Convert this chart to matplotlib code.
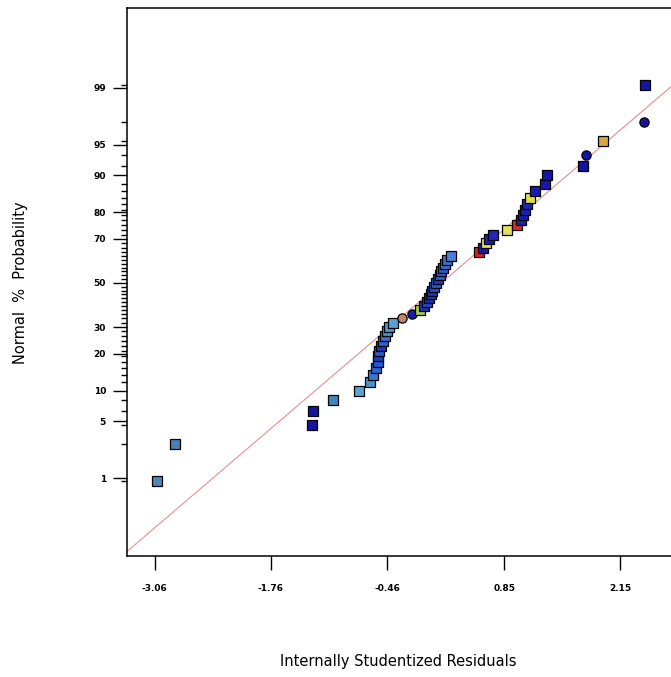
import matplotlib.pyplot as plt
from statistics import NormalDist

# internally studentized residuals, sorted ascending
residuals = [-3.04, -2.84, -1.30, -1.29, -1.07, -0.78, -0.65, -0.62, -0.585, -0.565,
             -0.56, -0.55, -0.53, -0.51, -0.485, -0.46, -0.44, -0.395, -0.295, -0.18,
             -0.09, -0.05, -0.015, 0.01, 0.03, 0.04, 0.065, 0.085, 0.11, 0.13,
             0.145, 0.165, 0.19, 0.21, 0.255, 0.57, 0.61, 0.645, 0.68, 0.725,
             0.88, 0.995, 1.04, 1.06, 1.085, 1.105, 1.14, 1.195, 1.305, 1.33,
             1.735, 1.765, 1.955, 2.42, 2.43]

# fill colour of each run (coloured by response)
colors = ['#4d86b8', '#4a80b0', '#1414a0', '#1414a0', '#3f86bf', '#5ba3d3', '#4a92cc',
          '#3a78d0', '#2f62d4', '#2a58d0', '#1d3cc0', '#2a5ad0', '#1c36bb', '#2d62d2',
          '#3570d8', '#4a8fd0', '#4f98d2', '#5aa2d6', '#c98468', '#1a1ab4', '#a8d040',
          '#1e30b8', '#2448c4', '#1a2ab8', '#2040c0', '#1c34bc', '#2550c8', '#2a5ad0',
          '#1e3cc0', '#2e60d0', '#3366d2', '#2a58cc', '#3a72d4', '#3a70d6', '#4a80d8',
          '#e02020', '#1a1ab0', '#e6e04a', '#1c1cb4', '#2226b8', '#e2e05c', '#e02828',
          '#1c22b4', '#1a1ab0', '#1c20b2', '#2024b6', '#e0de50', '#1a1ab0', '#1818aa',
          '#1616a8', '#1414a4', '#1414a4', '#d8a848', '#1414a4', '#1414a4']

# runs drawn as circles instead of squares
circle_runs = [18, 19, 51, 53]

prob_ticks = [1, 5, 10, 20, 30, 50, 70, 80, 90, 95, 99]
x_ticks = [-3.06, -1.76, -0.46, 0.85, 2.15]
x_ticklabels = ['-3.06', '-1.76', '-0.46', '0.85', '2.15']

# reference line (mean and spread of the residual distribution)
line_mu, line_sigma = 0.146, 1.10

nd = NormalDist()
n = len(residuals)
zvals = [nd.inv_cdf((i + 0.5) / n) for i in range(n)]

fig = plt.figure(figsize=(6.71, 6.77), dpi=100)
ax = fig.add_axes([0.189, 0.179, 0.811, 0.809])

xmin, xmax = -3.374, 2.718
ax.plot([xmin, xmax], [(xmin - line_mu) / line_sigma, (xmax - line_mu) / line_sigma],
        color='#ec8c8c', lw=0.8, zorder=1)

for i in range(n):
    m = 'o' if i in circle_runs else 's'
    ax.scatter(residuals[i], zvals[i], s=44, marker=m, c=colors[i],
               edgecolors='black', linewidths=0.9, zorder=3)

ax.set_xlim(xmin, xmax)
ax.set_ylim(-3.25, 3.274)

ax.set_xticks(x_ticks)
ax.set_xticklabels(x_ticklabels, fontsize=6.5, fontweight='bold')
ax.set_yticks([nd.inv_cdf(p / 100) for p in prob_ticks])
ax.set_yticklabels([str(p) for p in prob_ticks], fontsize=6.5, fontweight='bold')
ax.set_yticks(zvals, minor=True)

ax.tick_params(axis='both', which='major', direction='out', length=10, width=1, pad=5)
ax.tick_params(axis='y', which='minor', direction='out', length=4.5, width=1)
ax.tick_params(axis='x', which='major', pad=10)

for side in ['left', 'bottom', 'top']:
    ax.spines[side].set_linewidth(1.1)
ax.spines['right'].set_visible(False)

fig.text(0.593, 0.023, 'Internally Studentized Residuals', ha='center', va='center',
         fontsize=10.5, family='DejaVu Sans')
fig.text(0.030, 0.583, 'Normal  %  Probability', ha='center', va='center',
         rotation=90, fontsize=10.5, family='DejaVu Sans')

fig.savefig('out.png', dpi=100, facecolor='white')
